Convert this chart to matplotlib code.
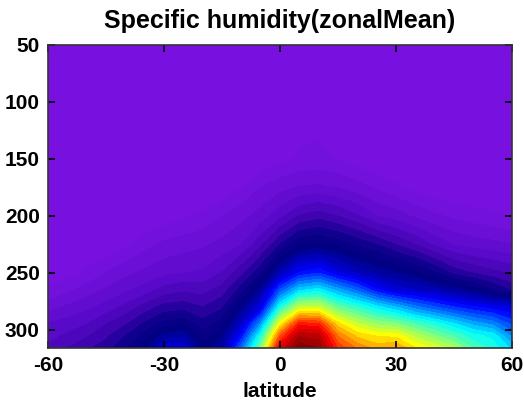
import numpy as np
import matplotlib
matplotlib.use("Agg")
import matplotlib.pyplot as plt
from matplotlib.colors import LinearSegmentedColormap

plt.rcParams.update({"font.family": "Liberation Sans", "font.weight": "bold", "font.size": 15,
                     "axes.unicode_minus": False})

# latitude (deg) and pressure levels (hPa)
lat = np.arange(-60, 61, 5)
plev = [50, 150, 175, 200, 225, 250, 265, 280, 295, 305, 316]

# zonal mean specific humidity (relative units)
q50 = [0] * 25
q150 = [0, 0, 0, 0, 0, 0, 0, 0, 0, 0, 0, 0, 1.8, 2.8, 3, 2.4, 1, 0, 0, 0, 0, 0, 0, 0, 0]
q175 = [0, 0, 0, 0, 0, 0, 0, 0, 0, 0, 2.4, 5, 6.6, 7.7, 8, 7.4, 6.1, 4.6, 3, 1.6, 0.4, 0, 0, 0, 0]
q200 = [0, 0, 0, 0, 0, 0, 0.8, 2, 3, 5, 6.6, 8.6, 11.7, 15.2, 16.5, 15, 12.8, 10, 8.8, 7, 5.5, 4.4, 3.6, 3, 2.4]
q225 = [0, 0, 0, 0, 2, 4, 5.6, 6.4, 7, 8.3, 10, 14.3, 20, 24.5, 25.5, 24, 22, 20, 17.4, 15, 12, 9.8, 8.9, 8.3, 7.6]
q250 = [0, 1.4, 3, 5, 6.8, 8.1, 9.3, 10, 10.5, 12.7, 16.8, 22.1, 31, 38, 40, 35.5, 32, 29.5, 27.7, 25.6, 22.8, 19.2, 17.4, 15.9, 14.7]
q265 = [2.8, 4.4, 6.1, 7.9, 9.5, 11.1, 13.5, 14.5, 14, 16.1, 21.2, 28.6, 43, 52, 54, 49, 44.5, 38.2, 34.1, 32.7, 31.1, 28.9, 26.3, 22.8, 19.7]
q280 = [6.2, 8, 9.3, 11, 13.2, 16, 18.5, 19, 17.6, 19.5, 27.1, 35, 56, 68, 68.5, 61.5, 57.8, 53.9, 50.3, 46.1, 43, 40.2, 38.1, 36.4, 35]
q295 = [10.3, 11.3, 12.5, 15, 17.3, 20.5, 23.5, 24.5, 21.2, 23.8, 33, 48, 72, 87, 86, 74, 68.5, 64.9, 63.5, 60, 56.9, 53.3, 49.6, 47.1, 42.1]
q305 = [11.6, 13, 14.7, 16.9, 20, 23.5, 28.5, 29.5, 23.5, 26.8, 38.1, 56, 82, 95, 94, 80, 74.5, 72.5, 72, 67, 63.1, 59.6, 56.1, 54.3, 46.8]
q316 = [13, 15, 17, 19, 22, 27, 34, 35, 26, 30, 45, 63, 91, 100, 98, 85, 80, 77, 78, 73, 70, 66, 60, 57, 52]

q = np.array([q50, q150, q175, q200, q225, q250, q265, q280, q295, q305, q316])

cmap = LinearSegmentedColormap.from_list("pj", [
    (0.00, "#7b12e2"), (0.06, "#6c0fd8"), (0.12, "#5508c6"), (0.17, "#3a02aa"),
    (0.21, "#10008e"), (0.26, "#000080"), (0.30, "#0000a8"), (0.38, "#0000ff"),
    (0.55, "#00ffff"), (0.72, "#ffff00"), (0.88, "#ff0000"), (1.00, "#800000")])

fig = plt.figure(figsize=(5.24, 4.05), dpi=100)
ax = fig.add_axes([48/524, 57/405, 464/524, 303/405])
ax.contourf(lat, plev, q, levels=np.linspace(0, 100.5, 41), cmap=cmap, vmin=0, vmax=100)
ax.set_xlim(-60, 60); ax.set_ylim(316, 50)
ax.set_xticks([-60, -30, 0, 30, 60]); ax.set_yticks([50, 100, 150, 200, 250, 300])
ax.tick_params(direction="in", top=True, right=True, length=5, width=1.2, pad=6)
for s in ax.spines.values():
    s.set_linewidth(1.2); s.set_color("#333333")
ax.set_xlabel("latitude", fontweight="bold", labelpad=5)
ax.set_title("Specific humidity(zonalMean)", fontweight="bold", pad=12)
fig.savefig("out.png")
